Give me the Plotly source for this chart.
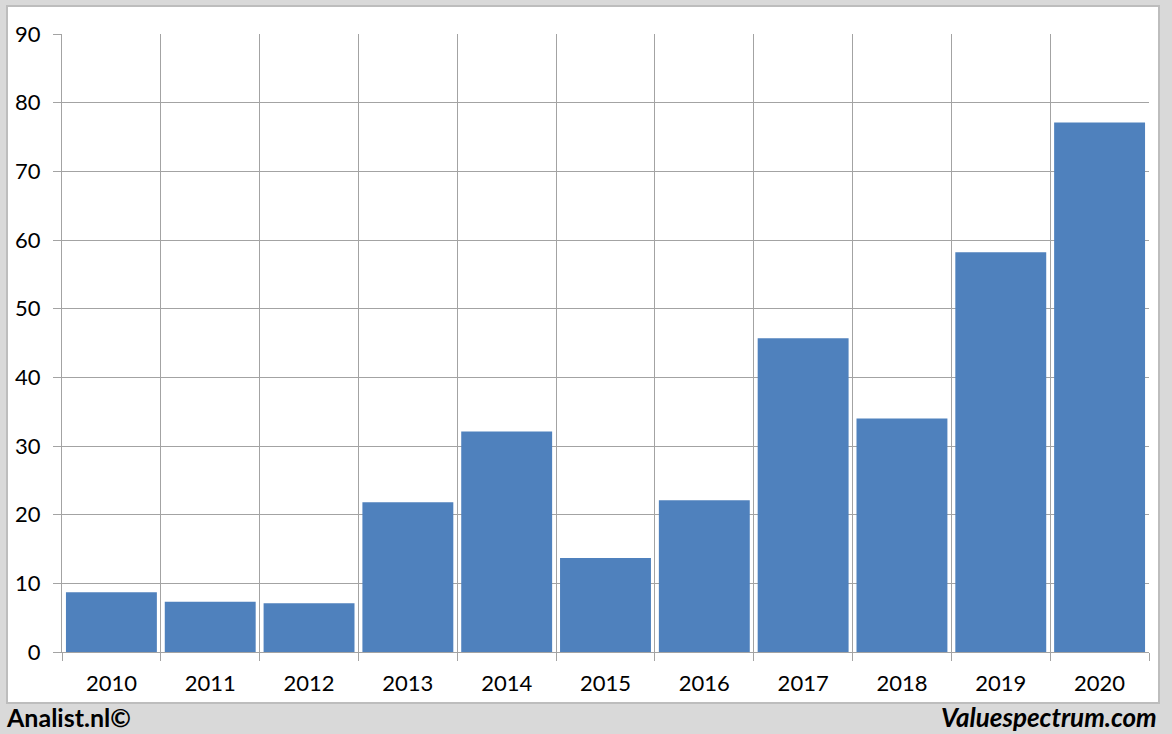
import plotly.graph_objects as go

years = ["2010", "2011", "2012", "2013", "2014", "2015", "2016", "2017", "2018", "2019", "2020"]
values = [8.7, 7.3, 7.1, 21.8, 32.1, 13.7, 22.1, 45.7, 34.0, 58.2, 77.1]
y_ticks = [0, 10, 20, 30, 40, 50, 60, 70, 80, 90]

W, H = 1172, 734
L, R, T, B = 62, 23, 34, 82
PW, PH = W - L - R, H - T - B
FONT = "Lato, 'Open Sans', sans-serif"


def px_x(x):
    return (x - L) / PW


def px_y(y):
    return (H - B - y) / PH


fig = go.Figure(go.Bar(x=years, y=values, marker=dict(color="#4f81bd", line=dict(width=0))))

fig.update_layout(
    width=W, height=H,
    paper_bgcolor="#d9d9d9",
    plot_bgcolor="rgba(0,0,0,0)",
    margin=dict(l=L, r=R, t=T, b=B),
    bargap=0.08,
    showlegend=False,
    font=dict(family=FONT, size=22, color="#000000"),
    shapes=[
        dict(type="rect", xref="paper", yref="paper",
             x0=px_x(7), x1=px_x(1159), y0=px_y(703), y1=px_y(6),
             fillcolor="#ffffff", line=dict(color="#bdbdbd", width=2), layer="below"),
    ],
    annotations=[
        dict(text="<b>Analist.nl©</b>", xref="paper", yref="paper",
             x=px_x(4), y=px_y(717), xanchor="left", yanchor="middle", showarrow=False,
             font=dict(family=FONT, size=25, color="#000000")),
        dict(text="<b><i>Valuespectrum.com</i></b>", xref="paper", yref="paper",
             x=px_x(1159), y=px_y(717), xanchor="right", yanchor="middle", showarrow=False,
             font=dict(family=FONT, size=26, color="#000000")),
    ],
)

fig.update_xaxes(
    type="category", tickson="boundaries", showgrid=True, gridcolor="#a3a3a3", gridwidth=1,
    ticks="outside", ticklen=8, tickcolor="#a3a3a3",
    showline=True, linecolor="#a3a3a3", linewidth=1,
    tickfont=dict(size=22), ticklabelstandoff=12,
)
fig.update_yaxes(
    range=[0, 90], tickvals=y_ticks, showgrid=True, gridcolor="#a3a3a3", gridwidth=1,
    ticks="outside", ticklen=8, tickcolor="#a3a3a3",
    showline=True, linecolor="#a3a3a3", linewidth=1, zeroline=False,
    tickfont=dict(size=22), ticklabelstandoff=8,
)

fig.write_html("out.html", config={"displayModeBar": False},
               post_script="document.body.style.margin='0';")
